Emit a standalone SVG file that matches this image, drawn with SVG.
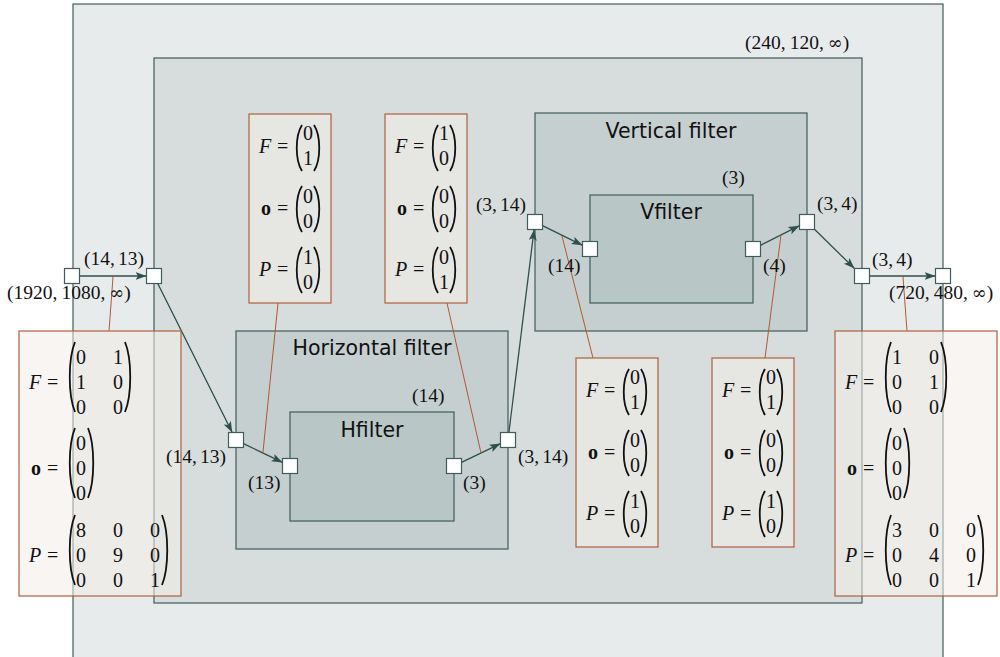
<svg xmlns="http://www.w3.org/2000/svg" width="1000" height="657" viewBox="0 0 1000 657">
<style>
.box{stroke:#3f5c5a;stroke-width:1.2}
.outer{fill:#e8ebec}
.inner{fill:#d7dddd}
.mid{fill:#c6cfcf}
.core{fill:#b9c6c6}
.port{fill:#ffffff;stroke:#3f5c5a;stroke-width:1.2}
.title{font-family:"DejaVu Sans","Liberation Sans",sans-serif;font-size:20.5px;fill:#111;text-anchor:middle}
.lbl{font-family:"Liberation Serif","DejaVu Serif",serif;font-size:19.5px;fill:#111}
.inf{font-family:"DejaVu Serif","Liberation Serif",serif;font-size:18px}
.m{font-family:"Liberation Serif","DejaVu Serif",serif;font-size:20px;fill:#111}
.c{text-anchor:middle}
.it{font-style:italic}
.bf{font-weight:bold}
.mbox{fill:#f2ece8;fill-opacity:0.55;stroke:#b0603c;stroke-width:1.2}
.par{fill:none;stroke:#111;stroke-width:1.8}
.conn{fill:none;stroke:#2f4f4d;stroke-width:1.3}
.lead{fill:none;stroke:#b5582f;stroke-width:1}
</style>
<defs>
<marker id="ah" markerUnits="userSpaceOnUse" markerWidth="12" markerHeight="9" refX="11" refY="4" orient="auto">
<path d="M0,0 L11,4 L0,8 L2.5,4 z" fill="#2f4f4d"/>
</marker>
</defs>

<g id="outer-box"><rect class="box outer" x="73" y="4" width="870" height="670"/></g>
<g id="inner-box"><rect class="box inner" x="154" y="58" width="708" height="545"/></g>

<g id="horizontal-filter"><rect class="box mid" x="236" y="331" width="272" height="218"/>
<text class="title" x="372" y="355">Horizontal filter</text></g>
<g id="hfilter"><rect class="box core" x="290" y="412" width="164" height="109"/>
<text class="title" x="372" y="437">Hfilter</text></g>
<g id="vertical-filter"><rect class="box mid" x="535" y="113" width="272" height="218"/>
<text class="title" x="671" y="138">Vertical filter</text></g>
<g id="vfilter"><rect class="box core" x="590" y="195" width="163" height="108"/>
<text class="title" x="671" y="219">Vfilter</text></g>

<g id="connectors">
<line class="conn" x1="79.5" y1="276" x2="146.5" y2="276" marker-end="url(#ah)"/>
<line class="conn" x1="157.7" y1="283.5" x2="232.2" y2="432.5" marker-end="url(#ah)"/>
<line class="conn" x1="243.5" y1="443.6" x2="282.5" y2="462.4" marker-end="url(#ah)"/>
<line class="conn" x1="461.5" y1="462.4" x2="500.5" y2="443.6" marker-end="url(#ah)"/>
<line class="conn" x1="508.9" y1="432.5" x2="534.1" y2="229.5" marker-end="url(#ah)"/>
<line class="conn" x1="542.5" y1="225.7" x2="582.5" y2="245.3" marker-end="url(#ah)"/>
<line class="conn" x1="760.5" y1="245.3" x2="799.5" y2="225.7" marker-end="url(#ah)"/>
<line class="conn" x1="814.5" y1="229.3" x2="854.5" y2="268.5" marker-end="url(#ah)"/>
<line class="conn" x1="869.5" y1="276" x2="935.5" y2="276" marker-end="url(#ah)"/>
<line class="lead" x1="113" y1="277" x2="109" y2="331"/>
<line class="lead" x1="278" y1="303" x2="263" y2="452"/>
<line class="lead" x1="447" y1="303" x2="481" y2="453"/>
<line class="lead" x1="562" y1="236" x2="593" y2="358"/>
<line class="lead" x1="781" y1="235" x2="765" y2="358"/>
<line class="lead" x1="903" y1="277" x2="907" y2="331"/>
</g>

<g id="ports">
<rect class="port" x="64.5" y="268.5" width="15" height="15"/>
<rect class="port" x="146.5" y="268.5" width="15" height="15"/>
<rect class="port" x="228.5" y="432.5" width="15" height="15"/>
<rect class="port" x="282.5" y="458.5" width="15" height="15"/>
<rect class="port" x="446.5" y="458.5" width="15" height="15"/>
<rect class="port" x="500.5" y="432.5" width="15" height="15"/>
<rect class="port" x="527.5" y="214.5" width="15" height="15"/>
<rect class="port" x="582.5" y="241.5" width="15" height="15"/>
<rect class="port" x="745.5" y="241.5" width="15" height="15"/>
<rect class="port" x="799.5" y="214.5" width="15" height="15"/>
<rect class="port" x="854.5" y="268.5" width="15" height="15"/>
<rect class="port" x="935.5" y="268.5" width="15" height="15"/>
</g>

<g id="params-in" transform="translate(19,331)">
<rect class="mbox" x="0" y="0" width="162" height="265"/>
<text class="m it" x="10" y="58">F</text><text class="m" x="28" y="58">=</text>
<path class="par" d="M56,11 C49,28 49,64 56,81"/><path class="par" d="M106,11 C113,28 113,64 106,81"/>
<text class="m c" x="62" y="33">0</text><text class="m c" x="99" y="33">1</text>
<text class="m c" x="62" y="58">1</text><text class="m c" x="99" y="58">0</text>
<text class="m c" x="62" y="83">0</text><text class="m c" x="99" y="83">0</text>
<text class="m bf" x="12" y="144">o</text><text class="m" x="28" y="144">=</text>
<path class="par" d="M56,97 C49,114 49,150 56,167"/><path class="par" d="M69,97 C76,114 76,150 69,167"/>
<text class="m c" x="62" y="119">0</text><text class="m c" x="62" y="144">0</text><text class="m c" x="62" y="169">0</text>
<text class="m it" x="10" y="231">P</text><text class="m" x="28" y="231">=</text>
<path class="par" d="M56,184 C49,201 49,237 56,254"/><path class="par" d="M143,184 C150,201 150,237 143,254"/>
<text class="m c" x="62" y="206">8</text><text class="m c" x="99" y="206">0</text><text class="m c" x="136" y="206">0</text>
<text class="m c" x="62" y="231">0</text><text class="m c" x="99" y="231">9</text><text class="m c" x="136" y="231">0</text>
<text class="m c" x="62" y="256">0</text><text class="m c" x="99" y="256">0</text><text class="m c" x="136" y="256">1</text>
</g>

<g id="params-out" transform="translate(835,331)">
<rect class="mbox" x="0" y="0" width="162" height="265"/>
<text class="m it" x="10" y="58">F</text><text class="m" x="28" y="58">=</text>
<path class="par" d="M56,11 C49,28 49,64 56,81"/><path class="par" d="M106,11 C113,28 113,64 106,81"/>
<text class="m c" x="62" y="33">1</text><text class="m c" x="99" y="33">0</text>
<text class="m c" x="62" y="58">0</text><text class="m c" x="99" y="58">1</text>
<text class="m c" x="62" y="83">0</text><text class="m c" x="99" y="83">0</text>
<text class="m bf" x="12" y="144">o</text><text class="m" x="28" y="144">=</text>
<path class="par" d="M56,97 C49,114 49,150 56,167"/><path class="par" d="M69,97 C76,114 76,150 69,167"/>
<text class="m c" x="62" y="119">0</text><text class="m c" x="62" y="144">0</text><text class="m c" x="62" y="169">0</text>
<text class="m it" x="10" y="231">P</text><text class="m" x="28" y="231">=</text>
<path class="par" d="M56,184 C49,201 49,237 56,254"/><path class="par" d="M143,184 C150,201 150,237 143,254"/>
<text class="m c" x="62" y="206">3</text><text class="m c" x="99" y="206">0</text><text class="m c" x="136" y="206">0</text>
<text class="m c" x="62" y="231">0</text><text class="m c" x="99" y="231">4</text><text class="m c" x="136" y="231">0</text>
<text class="m c" x="62" y="256">0</text><text class="m c" x="99" y="256">0</text><text class="m c" x="136" y="256">1</text>
</g>

<g id="params-h-in" transform="translate(249,114)">
<rect class="mbox" x="0" y="0" width="82" height="189"/>
<text class="m it" x="10" y="39">F</text><text class="m" x="28" y="39">=</text>
<path class="par" d="M53,11 C46,22 46,46 53,57"/><path class="par" d="M65,11 C72,22 72,46 65,57"/>
<text class="m c" x="59" y="26">0</text><text class="m c" x="59" y="51">1</text>
<text class="m bf" x="12" y="101">o</text><text class="m" x="28" y="101">=</text>
<path class="par" d="M53,72 C46,83 46,107 53,118"/><path class="par" d="M65,72 C72,83 72,107 65,118"/>
<text class="m c" x="59" y="89">0</text><text class="m c" x="59" y="114">0</text>
<text class="m it" x="10" y="162">P</text><text class="m" x="28" y="162">=</text>
<path class="par" d="M53,133 C46,144 46,168 53,179"/><path class="par" d="M65,133 C72,144 72,168 65,179"/>
<text class="m c" x="59" y="150">1</text><text class="m c" x="59" y="175">0</text>
</g>

<g id="params-h-out" transform="translate(385,114)">
<rect class="mbox" x="0" y="0" width="82" height="189"/>
<text class="m it" x="10" y="39">F</text><text class="m" x="28" y="39">=</text>
<path class="par" d="M53,11 C46,22 46,46 53,57"/><path class="par" d="M65,11 C72,22 72,46 65,57"/>
<text class="m c" x="59" y="26">1</text><text class="m c" x="59" y="51">0</text>
<text class="m bf" x="12" y="101">o</text><text class="m" x="28" y="101">=</text>
<path class="par" d="M53,72 C46,83 46,107 53,118"/><path class="par" d="M65,72 C72,83 72,107 65,118"/>
<text class="m c" x="59" y="89">0</text><text class="m c" x="59" y="114">0</text>
<text class="m it" x="10" y="162">P</text><text class="m" x="28" y="162">=</text>
<path class="par" d="M53,133 C46,144 46,168 53,179"/><path class="par" d="M65,133 C72,144 72,168 65,179"/>
<text class="m c" x="59" y="150">0</text><text class="m c" x="59" y="175">1</text>
</g>

<g id="params-v-in" transform="translate(576,358)">
<rect class="mbox" x="0" y="0" width="82" height="189"/>
<text class="m it" x="10" y="39">F</text><text class="m" x="28" y="39">=</text>
<path class="par" d="M53,11 C46,22 46,46 53,57"/><path class="par" d="M65,11 C72,22 72,46 65,57"/>
<text class="m c" x="59" y="26">0</text><text class="m c" x="59" y="51">1</text>
<text class="m bf" x="12" y="101">o</text><text class="m" x="28" y="101">=</text>
<path class="par" d="M53,72 C46,83 46,107 53,118"/><path class="par" d="M65,72 C72,83 72,107 65,118"/>
<text class="m c" x="59" y="89">0</text><text class="m c" x="59" y="114">0</text>
<text class="m it" x="10" y="162">P</text><text class="m" x="28" y="162">=</text>
<path class="par" d="M53,133 C46,144 46,168 53,179"/><path class="par" d="M65,133 C72,144 72,168 65,179"/>
<text class="m c" x="59" y="150">1</text><text class="m c" x="59" y="175">0</text>
</g>

<g id="params-v-out" transform="translate(712,358)">
<rect class="mbox" x="0" y="0" width="82" height="189"/>
<text class="m it" x="10" y="39">F</text><text class="m" x="28" y="39">=</text>
<path class="par" d="M53,11 C46,22 46,46 53,57"/><path class="par" d="M65,11 C72,22 72,46 65,57"/>
<text class="m c" x="59" y="26">0</text><text class="m c" x="59" y="51">1</text>
<text class="m bf" x="12" y="101">o</text><text class="m" x="28" y="101">=</text>
<path class="par" d="M53,72 C46,83 46,107 53,118"/><path class="par" d="M65,72 C72,83 72,107 65,118"/>
<text class="m c" x="59" y="89">0</text><text class="m c" x="59" y="114">0</text>
<text class="m it" x="10" y="162">P</text><text class="m" x="28" y="162">=</text>
<path class="par" d="M53,133 C46,144 46,168 53,179"/><path class="par" d="M65,133 C72,144 72,168 65,179"/>
<text class="m c" x="59" y="150">1</text><text class="m c" x="59" y="175">0</text>
</g>

<g id="labels">
<text class="lbl" x="745" y="49">(240,<tspan dx="4">120,</tspan><tspan dx="4" class="inf">∞</tspan>)</text>
<text class="lbl c" x="114" y="265">(14,<tspan dx="3">13)</tspan></text>
<text class="lbl" x="7" y="299">(1920,<tspan dx="4">1080,</tspan><tspan dx="4" class="inf">∞</tspan>)</text>
<text class="lbl" x="166" y="463">(14,<tspan dx="3">13)</tspan></text>
<text class="lbl" x="248" y="489">(13)</text>
<text class="lbl" x="412" y="402">(14)</text>
<text class="lbl" x="463" y="489">(3)</text>
<text class="lbl" x="518" y="463">(3,<tspan dx="3">14)</tspan></text>
<text class="lbl" x="526" y="211" text-anchor="end">(3,<tspan dx="3">14)</tspan></text>
<text class="lbl" x="548" y="272">(14)</text>
<text class="lbl" x="722" y="184">(3)</text>
<text class="lbl" x="763" y="272">(4)</text>
<text class="lbl" x="817" y="210">(3,<tspan dx="3">4)</tspan></text>
<text class="lbl" x="872" y="266">(3,<tspan dx="3">4)</tspan></text>
<text class="lbl" x="889" y="299">(720,<tspan dx="4">480,</tspan><tspan dx="4" class="inf">∞</tspan>)</text>
</g>
</svg>
